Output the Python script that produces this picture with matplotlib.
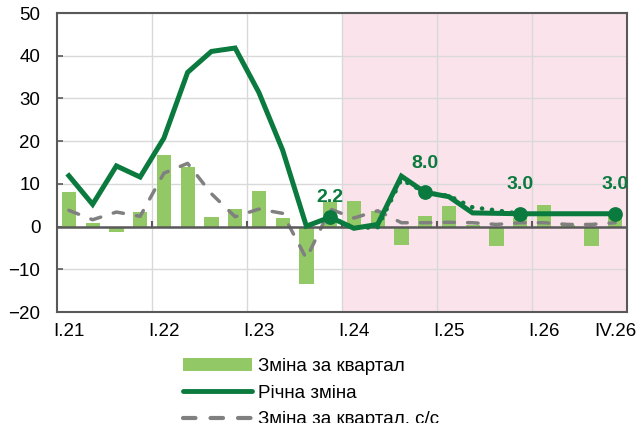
import numpy as np
import matplotlib
matplotlib.use("Agg")
import matplotlib.pyplot as plt
from matplotlib.patches import Patch
from matplotlib.lines import Line2D

plt.rcParams['font.family'] = ['Liberation Sans', 'DejaVu Sans']

# Quarterly data, I.21 .. IV.26
quarters = [f"{q}.{y}" for y in range(21, 27) for q in ("I", "II", "III", "IV")]
q_change = [8.0, 0.9, -1.2, 3.4, 16.7, 13.9, 2.2, 4.1, 8.4, 2.1, -13.4, 5.8,
            5.9, 3.6, -4.3, 2.4, 4.8, 0.4, -4.6, 2.0, 5.0, 0.4, -4.6, 2.5]
annual = [11.9, 5.2, 14.2, 11.6, 20.7, 36.1, 41.0, 41.8, 31.4, 17.9, 0.1, 2.2,
          -0.4, 0.5, 11.8, 8.0, 7.0, 3.2, 3.1, 3.0, 3.0, 3.0, 3.0, 3.0]
q_change_sa = [3.8, 1.6, 3.4, 2.4, 12.5, 14.8, 7.7, 2.3, 4.1, 3.1, -7.5, 4.1,
               2.0, 3.7, 0.9, 0.9, 1.0, 0.9, 0.5, 0.9, 0.9, 0.5, 0.5, 0.9]
# previous annual forecast path (IV.23 .. IV.25 positions)
prev_start = 11
annual_prev = [2.2, -0.3, -0.2, 11.0, 8.0, 7.2, 4.5, 3.8, 3.0]
# year-end points that carry value labels
labelled = [11, 15, 19, 23]
tick_idx = [0, 4, 8, 12, 16, 20, 23]
forecast_start = 12

legend_labels = ["Зміна за квартал", "Річна зміна", "Зміна за квартал, с/с"]

BAR = "#93C866"
GREEN = "#0B7A3E"
GREY = "#808080"
AXIS = "#595959"
PINK = "#FBE3EB"
FS = 13.5

fig = plt.figure(figsize=(6.39, 4.23), dpi=100)
ax = fig.add_axes([57 / 639, 1 - 312 / 423, 570 / 639, 299 / 423])

x = np.arange(len(quarters))
ax.set_xlim(-0.5, len(quarters) - 0.5)
ax.set_ylim(-20, 50)

ax.axvspan(forecast_start - 0.5, len(quarters) - 0.5, color=PINK, zorder=0, lw=0)

ax.bar(x, q_change, width=0.6, color=BAR, zorder=2)
ax.plot(x, q_change_sa, color=GREY, lw=2.5, dashes=(3.0, 3.8),
        dash_capstyle='round', zorder=3)
xp = np.arange(prev_start, prev_start + len(annual_prev))
ax.plot(xp, annual_prev, color=GREEN, lw=3.2, dashes=(0.05, 2.2),
        dash_capstyle='round', zorder=4)
ax.plot(x, annual, color=GREEN, lw=3.6, solid_joinstyle='miter', zorder=5)
ax.plot([x[i] for i in labelled], [annual[i] for i in labelled], 'o',
        color=GREEN, ms=9.6, zorder=6)

for i in labelled:
    off = 14 if i < forecast_start else 21
    ax.annotate(f"{annual[i]:.1f}", (x[i], annual[i]), xytext=(0, off),
                textcoords='offset points', ha='center', va='center',
                color=GREEN, fontsize=14, fontweight='bold', zorder=7)

ax.axhline(0, color=AXIS, lw=1.8, zorder=3.5)
bounds = [3.5, 7.5, 11.5, 15.5, 19.5]
ax.vlines(bounds, 0, 1.3, color=AXIS, lw=1.5, zorder=3.5)

ax.set_axisbelow(True)
ax.set_yticks(np.arange(-20, 51, 10))
ax.yaxis.grid(True, color="#D9D9D9", lw=1.0)
ax.set_xticks(bounds, minor=True)
ax.xaxis.grid(True, which='minor', color="#D9D9D9", lw=1.0)
ax.set_xticks([x[i] for i in tick_idx])
ax.set_xticklabels([quarters[i] for i in tick_idx])
ax.tick_params(axis='x', which='both', length=0, pad=8, labelsize=FS)
ax.tick_params(axis='y', direction='in', length=4, width=1.2, color=AXIS,
               pad=12, labelsize=FS)
for s in ax.spines.values():
    s.set_color(AXIS)
    s.set_linewidth(1.5)

handles = [Patch(facecolor=BAR, edgecolor='none'),
           Line2D([], [], color=GREEN, lw=3.5, solid_capstyle='round'),
           Line2D([], [], color=GREY, lw=3, dashes=(3.0, 3.6), dash_capstyle='round')]
fig.legend(handles, legend_labels, loc='upper left',
           bbox_to_anchor=(183 / 639, 1 - 358 / 423), frameon=False,
           fontsize=FS, handlelength=3.7, handletextpad=0.32,
           labelspacing=0.5, borderpad=0, borderaxespad=0)

fig.savefig("out.png", dpi=100)
